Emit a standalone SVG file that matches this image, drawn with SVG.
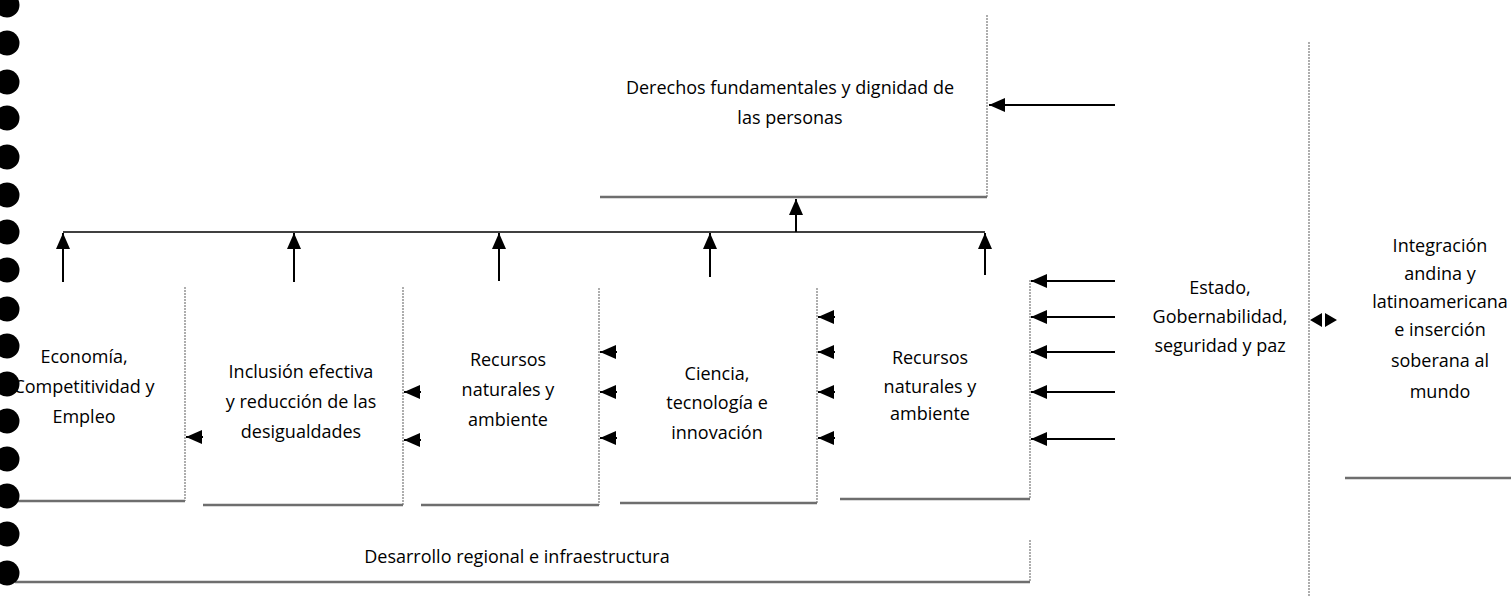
<svg xmlns="http://www.w3.org/2000/svg" width="1511" height="596" viewBox="0 0 1511 596">
<defs>
<marker id="ah" viewBox="0 0 16 14" refX="16" refY="7" markerWidth="16" markerHeight="14" markerUnits="userSpaceOnUse" orient="auto">
<path d="M0,0 L16,7 L0,14 z" fill="#000"/>
</marker>
</defs>
<style>
text{font-family:"Open Sans","Liberation Sans",sans-serif;font-size:18px;fill:#000;text-anchor:middle}
.re{stroke:#9a9a9a;stroke-width:1.6;stroke-dasharray:2 1;fill:none}
.be{stroke:#6e6e6e;stroke-width:2.6;fill:none}
.c{stroke:#000;stroke-width:2;fill:none;marker-end:url(#ah)}
.h{stroke:#000;stroke-width:1.6;fill:none}
.dot{fill:#000}
</style>
<rect width="1511" height="596" fill="#fff"/>

<g id="derechos">
<path class="re" d="M987,15 V197"/>
<path class="be" d="M600,197 H987"/>
<text x="790" y="94">Derechos fundamentales y dignidad de</text>
<text x="790" y="124">las personas</text>
</g>

<g id="economia">
<path class="re" d="M185,287 V501"/>
<path class="be" d="M15,501 H185"/>
<text x="84" y="363">Economía,</text>
<text x="84" y="393">Competitividad y</text>
<text x="84" y="423">Empleo</text>
</g>

<g id="inclusion">
<path class="re" d="M403,287 V505"/>
<path class="be" d="M203,505 H403"/>
<text x="301" y="378">Inclusión efectiva</text>
<text x="301" y="408">y reducción de las</text>
<text x="301" y="438">desigualdades</text>
</g>

<g id="recursos1">
<path class="re" d="M599,288 V505"/>
<path class="be" d="M421,505 H599"/>
<text x="508" y="366">Recursos</text>
<text x="508" y="396">naturales y</text>
<text x="508" y="426">ambiente</text>
</g>

<g id="ciencia">
<path class="re" d="M817,288 V503"/>
<path class="be" d="M620,503 H817"/>
<text x="717" y="380">Ciencia,</text>
<text x="717" y="409">tecnología e</text>
<text x="717" y="439">innovación</text>
</g>

<g id="recursos2">
<path class="re" d="M1030,280 V499"/>
<path class="be" d="M840,499 H1030"/>
<text x="930" y="364">Recursos</text>
<text x="930" y="393">naturales y</text>
<text x="930" y="420">ambiente</text>
</g>

<g id="desarrollo">
<path class="re" d="M1030,540 V582"/>
<path class="be" d="M15,582 H1030"/>
<text x="517" y="563">Desarrollo regional e infraestructura</text>
</g>

<g id="estado">
<path class="re" d="M1309,42 V596"/>
<text x="1220" y="294">Estado,</text>
<text x="1220" y="323">Gobernabilidad,</text>
<text x="1220" y="352">seguridad y paz</text>
</g>

<g id="integracion">
<path class="be" d="M1345,478 H1511"/>
<text x="1440" y="252">Integración</text>
<text x="1440" y="280">andina y</text>
<text x="1440" y="308">latinoamericana</text>
<text x="1440" y="336">e inserción</text>
<text x="1440" y="367">soberana al</text>
<text x="1440" y="398">mundo</text>
</g>

<g id="connectors">
<path class="c" d="M1115,105 H989"/>
<path class="c" d="M796,232 V199"/>
<path class="h" d="M63,232 H985"/>
<path class="c" d="M63,282 V233"/>
<path class="c" d="M294,282 V233"/>
<path class="c" d="M499,281 V233"/>
<path class="c" d="M710,277 V233"/>
<path class="c" d="M985,275 V233"/>
<path class="c" d="M203,437 H186"/>
<path class="c" d="M421,392 H404"/>
<path class="c" d="M421,440 H404"/>
<path class="c" d="M617,352 H600"/>
<path class="c" d="M617,392 H600"/>
<path class="c" d="M617,438 H600"/>
<path class="c" d="M835,317 H818"/>
<path class="c" d="M835,352 H818"/>
<path class="c" d="M835,392 H818"/>
<path class="c" d="M835,438 H818"/>
<path class="c" d="M1115,281 H1031"/>
<path class="c" d="M1115,317 H1031"/>
<path class="c" d="M1115,352 H1031"/>
<path class="c" d="M1115,392 H1031"/>
<path class="c" d="M1115,439 H1031"/>
<path d="M1310,320 L1322,313 L1322,327 z M1337,320 L1325,313 L1325,327 z" fill="#000"/>
</g>

<g id="binder-holes">
<circle class="dot" cx="7" cy="5" r="12.5"/>
<circle class="dot" cx="7" cy="43" r="12.5"/>
<circle class="dot" cx="7" cy="82" r="12.5"/>
<circle class="dot" cx="7" cy="118" r="12.5"/>
<circle class="dot" cx="7" cy="157" r="12.5"/>
<circle class="dot" cx="7" cy="195" r="12.5"/>
<circle class="dot" cx="7" cy="232" r="12.5"/>
<circle class="dot" cx="7" cy="270" r="12.5"/>
<circle class="dot" cx="7" cy="309" r="12.5"/>
<circle class="dot" cx="7" cy="346" r="12.5"/>
<circle class="dot" cx="7" cy="384" r="12.5"/>
<circle class="dot" cx="7" cy="421" r="12.5"/>
<circle class="dot" cx="7" cy="459" r="12.5"/>
<circle class="dot" cx="7" cy="496" r="12.5"/>
<circle class="dot" cx="7" cy="534" r="12.5"/>
<circle class="dot" cx="7" cy="573" r="12.5"/>
</g>
</svg>
